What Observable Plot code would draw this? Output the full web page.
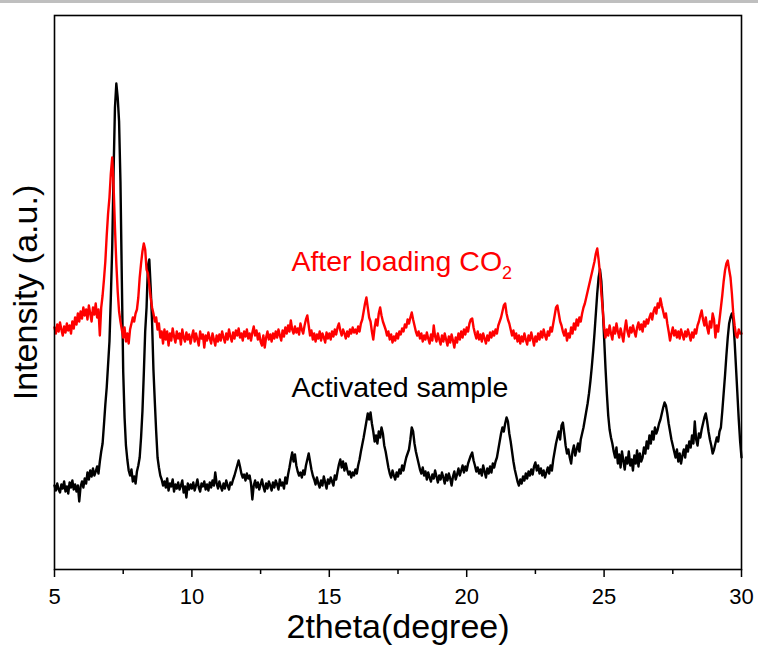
<!DOCTYPE html>
<html><head><meta charset="utf-8">
<script src="https://cdn.jsdelivr.net/npm/d3@7"></script>
<script src="https://cdn.jsdelivr.net/npm/@observablehq/plot@0.6"></script>
<style>
html,body{margin:0;padding:0;background:#fff;}
#bar{position:absolute;left:0;top:0;width:758px;height:3px;background:#bfbfbf;}
#chart{position:absolute;left:0;top:0;}
</style></head><body>
<div id="chart"></div><div id="bar"></div>
<script>
// 2theta scan: start 5.00 deg, step 0.05 deg, one row per degree
const scanStart = 5;
const scanStep = 0.05;

const activated = [
84,79,86,80,77,85,81,88,78,83,76,87,82,89,80,85,78,84,68,83,
88,82,91,86,97,90,99,93,101,94,98,103,96,108,118,126,145,165,182,205,
228,272,322,398,462,486,472,448,388,290,198,152,124,110,99,94,100,88,93,86,
98,104,112,132,158,196,238,262,304,310,282,248,200,168,138,112,102,94,90,84,
88,82,91,79,86,83,90,78,85,81,87,80,84,89,77,83,72,86,80,85,
81,87,79,84,90,82,78,86,83,88,80,85,79,87,82,89,84,97,86,81,
88,83,79,86,81,89,84,80,87,85,90,94,99,104,109,103,96,92,95,89,
96,91,94,86,70,84,89,82,87,80,85,90,83,78,86,81,88,84,79,87,
82,89,85,80,90,84,87,81,92,86,95,102,110,117,108,115,104,98,94,97,
92,99,95,104,110,116,108,100,94,90,85,92,86,82,89,84,93,87,81,90,
86,92,88,84,94,90,98,105,110,102,108,99,106,100,95,98,92,97,94,100,
96,104,110,118,125,132,140,148,156,150,157,146,138,128,134,126,138,132,142,136,
124,118,110,102,96,92,99,94,90,97,93,100,96,104,99,106,112,116,120,130,
142,138,126,118,112,106,100,96,102,94,98,90,97,92,88,95,91,99,93,87,
94,90,97,92,86,95,89,96,91,84,93,98,90,95,101,94,99,104,97,103,
99,106,110,114,117,109,104,98,102,96,100,94,104,98,92,101,96,103,97,106,
102,108,112,120,128,136,142,138,146,152,148,136,128,118,108,100,94,88,84,90,
86,93,89,96,91,98,94,100,95,103,107,99,104,96,101,94,99,92,97,102,
96,104,99,110,118,126,132,138,130,144,147,136,124,116,120,112,106,118,124,114,
120,126,118,130,136,142,150,158,166,176,188,202,218,236,256,276,292,300,288,262,
232,202,176,154,140,132,126,118,112,122,106,115,102,118,109,100,112,106,118,104,
110,99,114,106,119,103,116,108,112,122,116,128,121,134,126,138,130,142,136,140,
146,150,156,162,167,164,156,146,138,130,124,118,112,120,108,116,106,114,120,112,
124,118,128,122,134,126,148,130,124,136,132,140,146,152,156,148,138,130,124,116,
120,126,132,128,138,142,158,176,194,214,232,246,252,256,250,228,202,176,150,128,
112
];

const afterCO2 = [
242,236,245,238,247,240,234,243,237,246,239,244,236,248,241,252,245,256,248,258,
251,262,254,260,250,264,256,248,262,255,266,252,260,234,262,274,290,308,334,356,
372,396,412,384,342,306,278,258,248,240,232,242,228,236,226,240,246,252,248,256,
260,272,292,306,318,326,320,300,296,284,272,262,256,248,252,240,246,232,238,226,
240,230,238,224,236,229,241,233,227,238,231,236,225,240,232,228,237,230,235,226,
233,239,228,236,230,224,238,231,235,222,234,229,237,231,226,236,230,224,234,228,
235,229,238,232,227,236,230,240,233,228,237,231,239,234,241,232,236,229,238,233,
240,231,236,229,237,243,234,239,230,236,228,224,234,222,232,238,230,235,228,236,
231,238,232,240,234,229,239,233,242,236,244,238,249,240,236,243,237,241,235,246,
240,236,244,250,254,244,234,239,230,236,228,235,231,238,229,236,232,227,237,231,
236,230,238,233,240,235,242,246,239,234,240,236,231,238,233,240,236,242,237,240,
236,243,238,246,250,258,266,272,262,252,248,238,230,242,250,244,256,262,254,248,
244,240,234,238,230,235,227,233,229,236,231,238,235,241,238,245,242,250,246,252,
257,250,244,238,234,238,231,236,228,234,230,237,231,226,235,229,244,233,228,236,
230,225,234,228,236,230,224,233,227,235,229,222,232,227,236,230,238,232,240,235,
242,238,246,250,251,242,236,231,238,230,235,228,236,231,226,234,229,237,232,238,
234,240,236,244,248,252,258,264,266,256,250,246,240,234,239,231,236,228,234,226,
233,228,236,230,225,234,229,237,231,224,233,228,236,230,238,232,240,234,230,238,
234,242,238,246,254,262,264,256,248,244,238,234,240,229,236,232,242,236,246,240,
250,244,252,248,256,262,266,272,278,284,290,296,302,308,316,321,310,296,276,260,
242,232,240,234,244,236,230,242,236,246,238,232,241,235,228,240,249,238,233,242,
237,244,238,233,242,247,240,245,238,248,243,250,246,252,256,250,258,262,256,266,
262,271,264,258,252,256,246,238,229,236,242,234,239,232,238,231,240,235,230,238,
233,240,235,229,237,232,240,236,244,248,254,259,250,244,252,242,236,248,242,256,
250,232,244,238,250,262,274,288,299,306,309,300,292,276,256,244,234,232,240,236,
236
];

const seriesNames = ["Activated sample", "After loading CO2"];
const seriesColors = ["#000000", "#ff0000"];
const xTicks = [5, 10, 15, 20, 25, 30];
const xMinorTicks = [7.5, 12.5, 17.5, 22.5, 27.5];
const labelTexts = ["After loading CO", "Activated sample"];
const labelSubs = ["2", ""];
const labelX = [13.62, 13.62];
const labelY = [308, 182];
const xTitle = "2theta(degree)";
const yTitle = "Intensity (a.u.)";

const rows = [];
[activated, afterCO2].forEach((arr, k) => {
  arr.forEach((v, i) => rows.push({theta: +(scanStart + i * scanStep).toFixed(2), intensity: v, series: seriesNames[k]}));
});
const labels = labelTexts.map((t, i) => ({text: t, sub: labelSubs[i], x: labelX[i], y: labelY[i], color: seriesColors[i === 0 ? 1 : 0]}));

const font = "'Liberation Sans', Arial, sans-serif";
const chart = Plot.plot({
  width: 758, height: 648,
  marginLeft: 54, marginRight: 17, marginTop: 15, marginBottom: 79,
  style: {fontFamily: font, background: "white", color: "black", overflow: "visible"},
  x: {domain: [5, 30]},
  y: {domain: [0, 554], axis: null},
  color: {domain: seriesNames, range: seriesColors},
  marks: [
    Plot.lineY(rows, {x: "theta", y: "intensity", z: "series", stroke: "series", strokeWidth: 2.4, strokeLinejoin: "round"}),
    Plot.axisX({ticks: xMinorTicks, tickSize: 5, tickFormat: () => "", strokeWidth: 1.5, label: null}),
    Plot.axisX({ticks: xTicks, tickSize: 8, tickPadding: 11, tickFormat: d => String(d), fontSize: 22, strokeWidth: 1.5, label: null, lineAnchor: "top"}),
    Plot.frame({stroke: "black", strokeWidth: 1.6}),
    Plot.text([xTitle], {frameAnchor: "bottom", dy: 58, fontSize: 34, lineAnchor: "middle", textAnchor: "middle", fill: "black"}),
    Plot.text([yTitle], {frameAnchor: "left", dx: -28, rotate: -90, fontSize: 34, lineAnchor: "middle", textAnchor: "middle", fill: "black"}),
    Plot.text(labels, {x: "x", y: "y", text: "text", fill: "color", fontSize: 28.5, textAnchor: "start", lineAnchor: "middle", className: "series-label"})
  ]
});
document.getElementById("chart").appendChild(chart);

// add subscript for CO2
d3.select(chart).selectAll("g.series-label text").each(function() {
  const node = d3.select(this);
  const lbl = labels.find(l => l.text === node.text());
  if (lbl && lbl.sub) {
    node.append("tspan").attr("dy", "8").attr("font-size", "18").text(lbl.sub);
  }
});
</script>
</body></html>
